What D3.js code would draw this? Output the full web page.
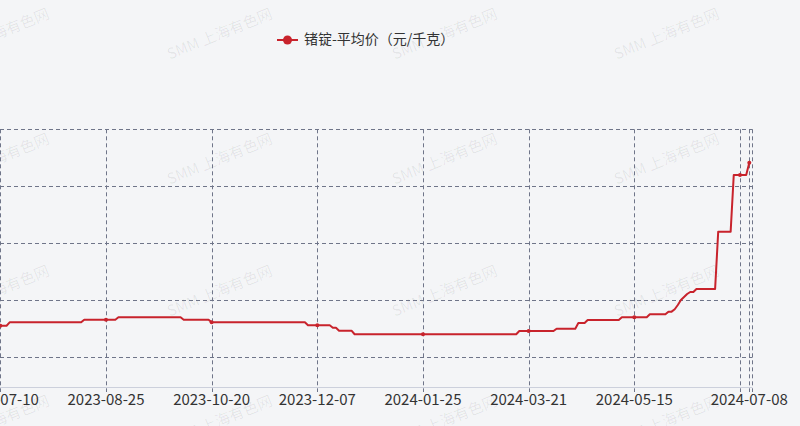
<!DOCTYPE html>
<html><head><meta charset="utf-8">
<script src="https://cdn.jsdelivr.net/npm/d3@7/dist/d3.min.js"></script>
<style>
html,body{margin:0;padding:0;background:#f4f5f7;}
svg{display:block;font-family:"Noto Sans CJK SC","Noto Sans",sans-serif;}
</style></head>
<body><svg id="c" width="800" height="426"></svg>
<script>
// Category index (trading day) of each vertex of the price line, 0 = 2023-07-10
const pointIndex = [0,2,3,26,27,37,38,58,59,67,68,98,99,106,107,108,109,113,114,166,167,178,179,185,186,188,189,199,200,208,209,214,215,216,217,218,219,220,221,222,223,224,230,231,235,236,240,241];
// Average price (元/千克) at each vertex
const pointValue = [9090,9090,9210,9210,9300,9300,9385,9385,9300,9300,9210,9210,9105,9105,9020,9020,8915,8915,8790,8790,8905,8905,8985,8985,9185,9185,9290,9290,9385,9385,9490,9490,9585,9585,9670,9820,9995,10100,10205,10275,10275,10380,10380,12400,12400,14390,14390,14825];
// X-axis ticks (category index) and labels
const tickIndex = [0,34,68,102,136,170,204,238,241];
const tickLabel = ["2023-07-10","2023-08-25","2023-10-20","2023-12-07","2024-01-25","2024-03-21","2024-05-15","","2024-07-08"];
// Indices where symbols are shown
const symbolIndex = [0,34,68,102,136,170,204,238,241];
const yTicks = [8000,10000,12000,14000,16000];
const seriesName = "锗锭-平均价（元/千克）";
const watermark = "SMM 上海有色网";
const lastIndex = 242;

const svg = d3.select("#c");
const red = "#c8232c";
const gridColor = "#6f7589";

// watermark
const wm = svg.append("g");
[-3,220,445,667].forEach(cx => {
  [35,160,292,422].forEach(cy => {
    wm.append("text").attr("transform",`translate(${cx},${cy}) rotate(-22)`)
      .attr("text-anchor","middle").attr("dominant-baseline","middle")
      .attr("font-size",15).attr("fill","rgba(0,0,0,0.07)").text(watermark);
  });
});

const x = d3.scaleLinear().domain([0,lastIndex]).range([0.33,752.4]);
const y = d3.scaleLinear().domain([6934,16000]).range([387,129.3]);

const g = svg.append("g");
g.selectAll("line.h").data(yTicks).join("line")
  .attr("x1",0).attr("x2",x(lastIndex)).attr("y1",d=>Math.round(y(d))+0.5).attr("y2",d=>Math.round(y(d))+0.5)
  .attr("stroke",gridColor).attr("stroke-dasharray","4,3").attr("stroke-width",1);
g.selectAll("line.v").data(tickIndex.concat([lastIndex])).join("line")
  .attr("x1",d=>Math.round(x(d))+0.5).attr("x2",d=>Math.round(x(d))+0.5)
  .attr("y1",y(16000)).attr("y2",392)
  .attr("stroke",gridColor).attr("stroke-dasharray","4,3").attr("stroke-width",1);
g.append("line").attr("x1",0).attr("x2",x(lastIndex)).attr("y1",387.5).attr("y2",387.5)
  .attr("stroke","#ccd0dc").attr("stroke-width",1);
g.selectAll("text.xl").data(tickIndex.map((d,i)=>({i:d,l:tickLabel[i]})).filter(d=>d.l)).join("text")
  .attr("x",d=>x(d.i)).attr("y",401).attr("text-anchor","middle").attr("dominant-baseline","middle")
  .attr("font-size",15).attr("fill","#333").text(d=>d.l);

const pts = pointIndex.map((d,i)=>[d,pointValue[i]]);
const valueAt = idx => { let v = pointValue[0]; pointIndex.forEach((d,i)=>{ if(d<=idx) v = pointValue[i]; }); return v; };
g.append("path").datum(pts)
  .attr("d",d3.line().x(d=>x(d[0])).y(d=>y(d[1])))
  .attr("fill","none").attr("stroke",red).attr("stroke-width",2).attr("stroke-linejoin","round");
g.selectAll("circle.s").data(symbolIndex).join("circle")
  .attr("cx",d=>x(d)).attr("cy",d=>y(valueAt(d))).attr("r",2).attr("fill",red);

const lg = svg.append("g");
lg.append("line").attr("x1",277).attr("x2",298).attr("y1",40).attr("y2",40).attr("stroke",red).attr("stroke-width",2);
lg.append("circle").attr("cx",287.5).attr("cy",40).attr("r",4.5).attr("fill",red);
lg.append("text").attr("x",304).attr("y",40).attr("dominant-baseline","middle")
  .attr("font-size",14).attr("fill","#333").text(seriesName);
</script></body></html>
